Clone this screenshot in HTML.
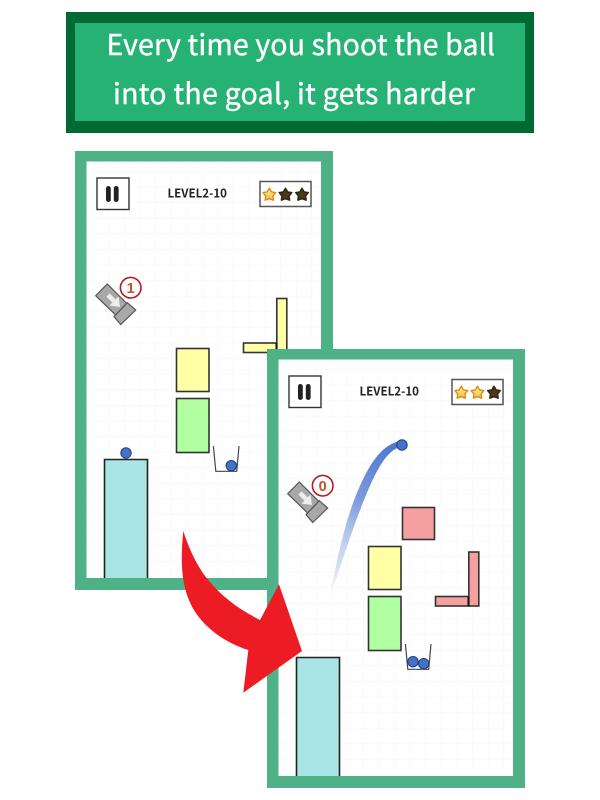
<!DOCTYPE html>
<html>
<head>
<meta charset="utf-8">
<style>
html,body{margin:0;padding:0;background:#fff;width:600px;height:800px;overflow:hidden}
svg{display:block}
.hd{font-family:"Noto Sans CJK JP","Liberation Sans",sans-serif;font-size:28.5px;fill:#fff;stroke:#fff;stroke-width:.4px;font-weight:400}
.lv{font-family:"Noto Sans CJK JP","Liberation Sans",sans-serif;font-size:12px;font-weight:700;fill:#222}
.ct{font-family:"Liberation Sans",sans-serif;font-size:14.5px;font-weight:700;fill:#c0522c}
</style>
</head>
<body>
<svg width="600" height="800" viewBox="0 0 600 800" xmlns="http://www.w3.org/2000/svg">
<defs>
<pattern id="grid" width="15.6" height="15.6" patternUnits="userSpaceOnUse">
<path d="M15.6 0V15.6M0 15.6H15.6" fill="none" stroke="#f5f5f5" stroke-width="1"/>
</pattern>
<linearGradient id="trail" gradientUnits="userSpaceOnUse" x1="330" y1="597" x2="400" y2="442">
<stop offset="0" stop-color="#4a78cf" stop-opacity="0"/>
<stop offset=".3" stop-color="#7f9fe0" stop-opacity=".45"/>
<stop offset=".6" stop-color="#6a8ed8" stop-opacity=".9"/>
<stop offset="1" stop-color="#4a76cd"/>
</linearGradient>
<linearGradient id="gold" x1="0" y1="0" x2="0" y2="1">
<stop offset="0" stop-color="#fff3a8"/>
<stop offset="1" stop-color="#f6b93a"/>
</linearGradient>
<path id="star" d="M0 -6.3 L2.2 -2.6 L6.3 -1.9 L3.6 1.6 L4.2 5.7 L0 4.2 L-4.2 5.7 L-3.6 1.6 L-6.3 -1.9 L-2.2 -2.6 Z" stroke-linejoin="round"/>
<g id="chrome">
<rect x="75" y="151" width="258" height="439" fill="#4fb286"/>
<rect x="86.5" y="161.5" width="234.5" height="416.5" fill="#fff"/>
<rect x="86.5" y="161.5" width="234.5" height="416.5" fill="url(#grid)"/>
<rect x="97" y="178" width="32" height="31.5" fill="#fff" stroke="#333" stroke-width="1.4"/>
<rect x="106" y="186" width="4.8" height="16" rx="2.4" fill="#222"/>
<rect x="113.8" y="186" width="4.8" height="16" rx="2.4" fill="#222"/>
<text class="lv" x="167.5" y="197.5" textLength="59.5" lengthAdjust="spacingAndGlyphs">LEVEL2-10</text>
<rect x="260" y="181.5" width="51" height="25" fill="#fff" stroke="#555" stroke-width="1.5"/>
<polygon points="107.3,284 127.3,304 116,315.3 95.7,295.7" fill="#a8a8a8" stroke="#555" stroke-width="1.2"/>
<polygon points="127.3,302.7 135.7,310 120.7,324.5 114,316.7" fill="#a8a8a8" stroke="#555" stroke-width="1.2"/>
<path d="M108 295 L114 301" stroke="#eee" stroke-width="4.5" fill="none"/>
<polygon points="120,307 109.5,305.5 118.5,296.5" fill="#eee"/>
<circle cx="130.7" cy="287.7" r="10.3" fill="#fff" stroke="#b31c1c" stroke-width="1.6"/>
<rect x="176.5" y="348.5" width="32.5" height="43" fill="#ffffa6" stroke="#333" stroke-width="1.6"/>
<rect x="176.5" y="398.5" width="32.5" height="54" fill="#b0ffa0" stroke="#333" stroke-width="1.6"/>
<path d="M104.5 578 V459.5 H147.5 V578" fill="#aae5e5" stroke="#222" stroke-width="1.6"/>
<path d="M213.4 446 L215.8 471.3 H236.7 L239 446" fill="none" stroke="#444" stroke-width="1.2"/>
</g>
</defs>

<rect x="66" y="12" width="468" height="121" fill="#006934"/>
<rect x="75" y="23" width="450" height="98" fill="#26b274"/>
<text class="hd" x="106.5" y="55" textLength="388.5" lengthAdjust="spacing">Every time you shoot the ball</text>
<text class="hd" x="113" y="104" textLength="362" lengthAdjust="spacing">into the goal, it gets harder</text>

<use href="#chrome"/>
<g fill="#ffffa6" stroke="#333" stroke-width="1.6">
<rect x="243.5" y="343" width="33" height="9.5"/>
<rect x="276.8" y="298.5" width="10" height="54"/>
</g>
<rect x="275.5" y="343" width="2" height="9.5" fill="#111"/>
<text class="ct" x="130.7" y="292.8" text-anchor="middle">1</text>
<g stroke="#e08a14" stroke-width="1.4" fill="url(#gold)"><use href="#star" x="269.3" y="194.5"/></g>
<g stroke="#2e2410" stroke-width="1.4" fill="#4a3a1c"><use href="#star" x="285.5" y="194.5"/><use href="#star" x="302" y="194.5"/></g>
<circle cx="126" cy="453" r="5.2" fill="#4472c8" stroke="#1f3f80" stroke-width="1"/>
<circle cx="231.3" cy="465.7" r="5.2" fill="#4472c8" stroke="#1f3f80" stroke-width="1"/>

<rect x="267" y="349" width="258" height="439" fill="#fff"/>
<use href="#chrome" x="192" y="198"/>
<text class="ct" x="322.7" y="490.8" text-anchor="middle">0</text>
<g stroke="#e08a14" stroke-width="1.4" fill="url(#gold)"><use href="#star" x="461.3" y="392.5"/><use href="#star" x="477.5" y="392.5"/></g>
<g stroke="#2e2410" stroke-width="1.4" fill="#4a3a1c"><use href="#star" x="494" y="392.5"/></g>
<path d="M330 597 C336 562 345 520 359 488 C369 465 381 445 400 441 L401 447 C389 449 379 465 369 488 C355 520 342 562 330 597 Z" fill="url(#trail)"/>
<circle cx="402" cy="445" r="5.2" fill="#4472c8" stroke="#1f3f80" stroke-width="1"/>
<rect x="402.5" y="507.5" width="32" height="32" fill="#f4a0a0" stroke="#333" stroke-width="1.6"/>
<g fill="#f4a0a0" stroke="#333" stroke-width="1.6">
<rect x="435.5" y="596.5" width="33.5" height="9.5"/>
<rect x="468.8" y="552" width="10" height="54"/>
</g>
<rect x="467.5" y="596.5" width="2" height="9.5" fill="#111"/>
<circle cx="413" cy="661.7" r="5.2" fill="#4472c8" stroke="#1f3f80" stroke-width="1"/>
<circle cx="423.7" cy="663.7" r="5.2" fill="#4472c8" stroke="#1f3f80" stroke-width="1"/>

<path d="M183.3 531 C190 552 199 569 208.3 580 C222 597 240 610 260 620 L279 584.3 L302 651 L243.3 692.7 L248.3 650 C228 644 207 630 195 611.7 C184 594 179 572 183.3 531 Z" fill="#ed1c24"/>
</svg>
</body>
</html>
